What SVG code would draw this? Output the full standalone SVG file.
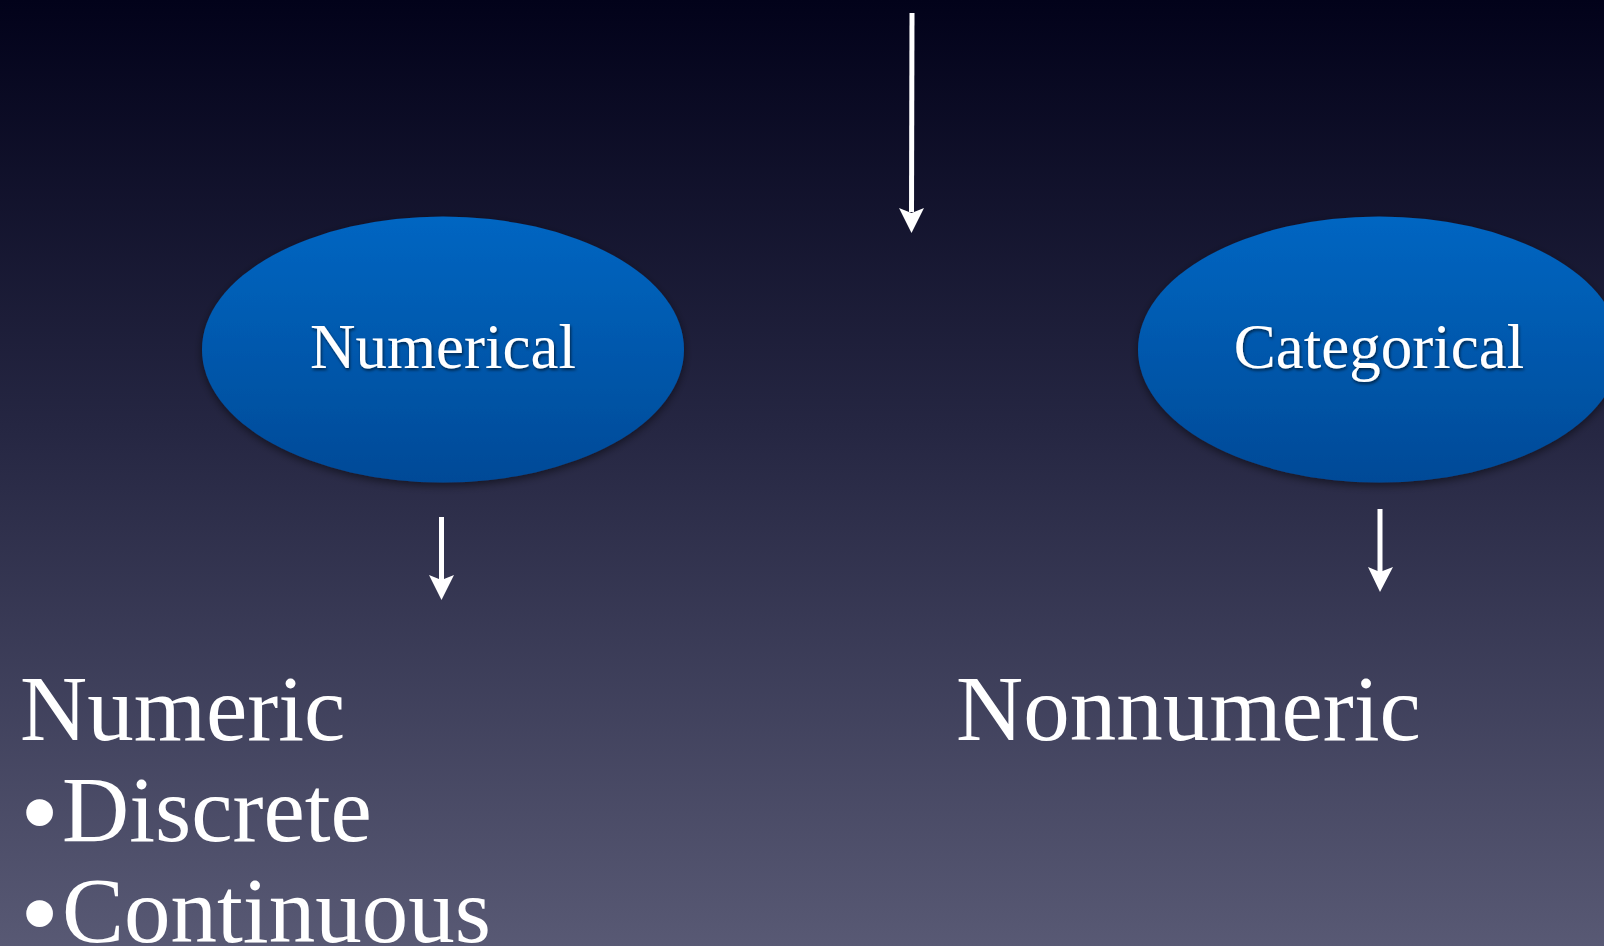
<svg xmlns="http://www.w3.org/2000/svg" width="1604" height="946" viewBox="0 0 1604 946">
<defs>
  <linearGradient id="bg" x1="0" y1="0" x2="0" y2="1">
    <stop offset="0" stop-color="#02021a"/>
    <stop offset="0.45" stop-color="#252642"/>
    <stop offset="1" stop-color="#585974"/>
  </linearGradient>
  <linearGradient id="ell" x1="0" y1="0" x2="0" y2="1">
    <stop offset="0" stop-color="#0066c2"/>
    <stop offset="1" stop-color="#064a97"/>
  </linearGradient>
  <filter id="sh" x="-20%" y="-20%" width="140%" height="140%">
    <feDropShadow dx="0" dy="3" stdDeviation="4" flood-color="#000" flood-opacity="0.5"/>
  </filter>
  <filter id="tsh" x="-10%" y="-30%" width="120%" height="160%">
    <feDropShadow dx="1" dy="2" stdDeviation="1.5" flood-color="#000" flood-opacity="0.6"/>
  </filter>
  <style>
    .node-label { font-family: "Liberation Serif", "Times New Roman", serif; font-size: 63px; fill: #ffffff; text-anchor: middle; }
    .big { font-family: "Liberation Serif", "Times New Roman", serif; font-size: 93px; fill: #ffffff; }
    .conn { stroke: #ffffff; stroke-width: 5; fill: none; }
    .head { fill: #ffffff; }
  </style>
</defs>
<rect x="0" y="0" width="1604" height="946" fill="url(#bg)"/>
<g id="connectors">
  <line class="conn" x1="912" y1="13" x2="911.5" y2="212"/>
  <path class="head" d="M899,208 L911.5,213 L924,208 L911.5,233 Z"/>
  <line class="conn" x1="441.5" y1="517" x2="441.5" y2="580"/>
  <path class="head" d="M429,575 L441.5,580 L454,575 L441.5,600 Z"/>
  <line class="conn" x1="1380" y1="509" x2="1380" y2="572"/>
  <path class="head" d="M1368,567 L1380,572 L1393,567 L1380,592 Z"/>
</g>
<g id="node-numerical">
  <ellipse cx="443" cy="349.5" rx="241" ry="133" fill="url(#ell)" filter="url(#sh)"/>
  <text class="node-label" x="443" y="368" filter="url(#tsh)">Numerical</text>
</g>
<g id="node-categorical">
  <ellipse cx="1379" cy="349.5" rx="241" ry="133" fill="url(#ell)" filter="url(#sh)"/>
  <text class="node-label" x="1379" y="368" filter="url(#tsh)">Categorical</text>
</g>
<g id="node-numeric">
  <text class="big" x="20" y="740">Numeric</text>
  <text class="big" y="841"><tspan x="20" font-size="112" dy="9">•</tspan><tspan x="62" dy="-9">Discrete</tspan></text>
  <text class="big" y="942"><tspan x="20" font-size="112" dy="9">•</tspan><tspan x="62" dy="-9">Continuous</tspan></text>
</g>
<g id="node-nonnumeric">
  <text class="big" x="956" y="740">Nonnumeric</text>
</g>
</svg>
